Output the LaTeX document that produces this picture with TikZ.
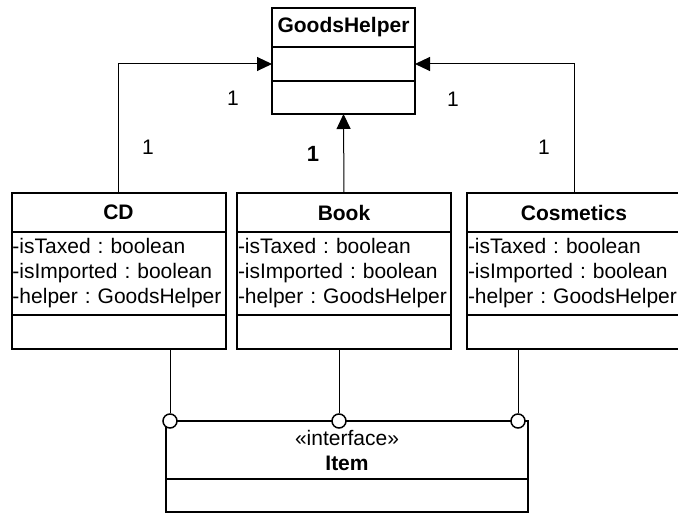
\documentclass[tikz,border=0pt]{standalone}
\usepackage{fontspec}
\setmainfont{Liberation Sans}
\usetikzlibrary{arrows.meta,positioning}
\frenchspacing
\hyphenpenalty=10000

\begin{document}
\begin{tikzpicture}[
    x=1pt, y=-1pt,
    every node/.style={font=\fontsize{21}{25}\selectfont},
    head/.style={rectangle, draw=black, line width=2pt, outer sep=0pt, minimum width=214pt, minimum height=39pt, font=\fontsize{21}{25}\selectfont\bfseries},
    attr/.style={rectangle, draw=black, line width=2pt, outer sep=0pt, text width=212pt, inner xsep=1pt, align=left, minimum height=83pt},
    ops/.style={rectangle, draw=black, line width=2pt, outer sep=0pt, minimum width=214pt, minimum height=34pt},
    ball/.style={circle, draw=black, line width=1.5pt, fill=white, minimum size=14pt, inner sep=0pt},
    arrow/.style={-{Triangle[length=15pt,width=14pt]}, line width=1pt, draw=black},
    link/.style={line width=1pt, draw=black},
    mult/.style={font=\fontsize{21}{25}\selectfont}
]
\useasboundingbox (0,0) rectangle (678,513);
\clip (0,0) rectangle (678,513);

% 1. Helper class
\node[head, minimum width=143pt] (gh) at (343.5, 27.5) {GoodsHelper};
\node[ops, minimum width=143pt, below=0pt of gh] (gh_mid) {};
\node[ops, minimum width=143pt, minimum height=33pt, below=0pt of gh_mid] (gh_ops) {};

% 2. Goods classes
\node[head] (cd) at (118.5, 212.5) {CD};
\node[attr, below=0pt of cd] (cd_attr) {-isTaxed : boolean\\-isImported : boolean\\-helper : GoodsHelper};
\node[ops, below=0pt of cd_attr] (cd_ops) {};

\node[head] (book) at (344, 212.5) {Book};
\node[attr, below=0pt of book] (book_attr) {-isTaxed : boolean\\-isImported : boolean\\-helper : GoodsHelper};
\node[ops, below=0pt of book_attr] (book_ops) {};

\node[head] (cos) at (574, 212.5) {Cosmetics};
\node[attr, below=0pt of cos] (cos_attr) {-isTaxed : boolean\\-isImported : boolean\\-helper : GoodsHelper};
\node[ops, below=0pt of cos_attr] (cos_ops) {};

% 3. Interface
\node[head, font=\fontsize{21}{25}\selectfont, align=center, minimum width=362pt, minimum height=58pt] (item) at (347, 450) {«interface»\\\textbf{Item}};
\node[ops, minimum width=362pt, minimum height=33pt, below=0pt of item] (item_ops) {};

% Lollipops
\node[ball] (ball_cd) at (170, 421) {};
\node[ball] (ball_book) at (339, 421) {};
\node[ball] (ball_cos) at (518, 421) {};

% Arrows
\draw[arrow] (cd.north) |- (gh_mid.west);
\draw[arrow] (book.north) -- (gh_ops.south);
\draw[arrow] (cos.north) |- (gh_mid.east);

\draw[link] (cd_ops.south -| ball_cd) -- (ball_cd);
\draw[link] (book_ops.south -| ball_book) -- (ball_book);
\draw[link] (cos_ops.south -| ball_cos) -- (ball_cos);

% Multiplicities
\node[mult] (m_cd_gh) at (233, 98) {1};
\node[mult] (m_cd) at (148, 147) {1};
\node[mult, font=\fontsize{22}{25}\selectfont\bfseries] (m_book) at (313, 154) {1};
\node[mult] (m_cos_gh) at (453, 99) {1};
\node[mult] (m_cos) at (544, 147) {1};

\end{tikzpicture}
\end{document}
